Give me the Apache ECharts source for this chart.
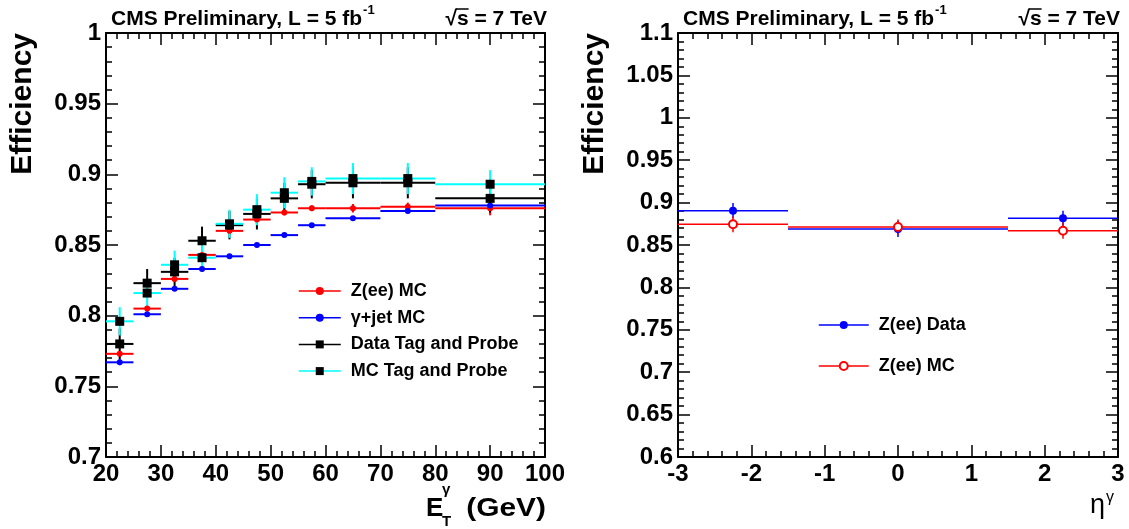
<!DOCTYPE html>
<html>
<head>
<meta charset="utf-8">
<script src="https://cdn.jsdelivr.net/npm/echarts@6/dist/echarts.min.js"></script>
<style>
  html, body { margin: 0; padding: 0; background: #fff; }
  #main { width: 1129px; height: 529px; }
</style>
</head>
<body>
<div id="main"></div>
<script>
// E_T bins (GeV)
const etLo = [20, 25, 30, 35, 40, 45, 50, 55, 60, 70, 80];
const etHi = [25, 30, 35, 40, 45, 50, 55, 60, 70, 80, 100];
const etMid = [22.5, 27.5, 32.5, 37.5, 42.5, 47.5, 52.5, 57.5, 65, 75, 90];

const zeeMcEt = [0.773, 0.805, 0.826, 0.843, 0.860, 0.868, 0.873, 0.876, 0.876, 0.877, 0.876];
const zeeMcEtErr = [0.002, 0.002, 0.002, 0.002, 0.002, 0.003, 0.002, 0.002, 0.003, 0.003, 0.005];
const gjetMc = [0.767, 0.801, 0.819, 0.833, 0.842, 0.850, 0.857, 0.864, 0.869, 0.874, 0.878];
const gjetMcErr = [0.002, 0.0015, 0.0015, 0.0015, 0.0015, 0.0015, 0.0015, 0.0015, 0.0015, 0.0015, 0.002];
const dataTP = [0.780, 0.823, 0.831, 0.853, 0.864, 0.872, 0.883, 0.893, 0.894, 0.894, 0.883];
const dataTPErr = [0.011, 0.010, 0.010, 0.010, 0.010, 0.011, 0.011, 0.010, 0.011, 0.011, 0.010];
const mcTP = [0.796, 0.816, 0.836, 0.841, 0.865, 0.875, 0.887, 0.895, 0.897, 0.897, 0.893];
const mcTPErr = [0.010, 0.010, 0.010, 0.010, 0.010, 0.011, 0.011, 0.010, 0.011, 0.011, 0.010];

// eta bins
const etaLo = [-3, -1.5, 1.5];
const etaHi = [-1.5, 1.5, 3];
const etaMid = [-2.25, 0, 2.25];
const zeeDataEta = [0.8905, 0.8689, 0.8815];
const zeeDataEtaErr = [0.009, 0.0095, 0.009];
const zeeMcEta = [0.8744, 0.8712, 0.8669];
const zeeMcEtaErr = [0.0094, 0.009, 0.0096];

const legendText = {
  zeeMcEt: 'Z(ee) MC',
  gjetMc: 'γ+jet MC',
  dataTP: 'Data Tag and Probe',
  mcTP: 'MC Tag and Probe',
  zeeDataEta: 'Z(ee) Data',
  zeeMcEta: 'Z(ee) MC'
};

const FONT = '"Liberation Sans", Arial, Helvetica, sans-serif';
const measure = document.createElement('canvas').getContext('2d');
function textWidth(s, font) { measure.font = font; return measure.measureText(s).width; }

function errData(mid, lo, hi, val, err) {
  return mid.map((m, i) => [m, val[i], lo[i], hi[i], val[i] - err[i], val[i] + err[i]]);
}
function pointData(mid, val) {
  return mid.map((m, i) => [m, val[i]]);
}

function errBars(color, width) {
  return function (params, api) {
    const y = api.value(1);
    const l = api.coord([api.value(2), y]);
    const r = api.coord([api.value(3), y]);
    const b = api.coord([api.value(0), api.value(4)]);
    const t = api.coord([api.value(0), api.value(5)]);
    const st = { stroke: color, lineWidth: width };
    return {
      type: 'group',
      children: [
        { type: 'line', shape: { x1: l[0], y1: l[1], x2: r[0], y2: r[1] }, style: st },
        { type: 'line', shape: { x1: b[0], y1: b[1], x2: t[0], y2: t[1] }, style: st }
      ]
    };
  };
}

function errSeries(xi, yi, data, color, width) {
  return {
    type: 'custom', xAxisIndex: xi, yAxisIndex: yi, data: data,
    renderItem: errBars(color, width), silent: true, animation: false
  };
}

function markSeries(name, xi, yi, data, lineColor, markColor, symbol, size, extra) {
  return Object.assign({
    type: 'line', name: name, xAxisIndex: xi, yAxisIndex: yi, data: data,
    symbol: symbol, symbolSize: size, showSymbol: true,
    lineStyle: { color: lineColor, opacity: 0 },
    itemStyle: { color: markColor },
    silent: true, animation: false
  }, extra || {});
}

function valueAxis(o) {
  return Object.assign({
    type: 'value',
    axisLine: { show: true, onZero: false, lineStyle: { color: '#000', width: 2 } },
    axisTick: { show: true, inside: true, length: 12, lineStyle: { color: '#000', width: 1.5 } },
    minorTick: { show: true, splitNumber: 5, length: 6, lineStyle: { color: '#000', width: 1.5 } },
    splitLine: { show: false },
    minorSplitLine: { show: false },
    axisLabel: { show: true, margin: 5, fontFamily: FONT, fontWeight: 'bold', fontSize: 24, color: '#000' }
  }, o);
}

function header(left, right) {
  const big = 'bold 21px ' + FONT;
  const main = 'CMS Preliminary, L = 5 fb';
  const energy = '√s = 7 TeV';
  const w = textWidth(main, big);
  const sx = right - textWidth(energy, big) + textWidth('√', big);
  return [
    { type: 'text', x: left, y: 19.5, silent: true,
      style: { text: main, font: big, fill: '#000', verticalAlign: 'middle' } },
    { type: 'text', x: left + w + 1, y: 10, silent: true,
      style: { text: '-1', font: 'bold 13px ' + FONT, fill: '#000', verticalAlign: 'middle' } },
    { type: 'text', x: right, y: 19.5, silent: true,
      style: { text: energy, font: big, fill: '#000', align: 'right', verticalAlign: 'middle' } },
    { type: 'line', silent: true,
      shape: { x1: sx - 1, y1: 9, x2: sx + textWidth('s', big), y2: 9 },
      style: { stroke: '#000', lineWidth: 1.5 } }
  ];
}

const legendBase = {
  orient: 'vertical', padding: 0, selectedMode: false,
  itemHeight: 10,
  formatter: n => legendText[n],
  lineStyle: { opacity: 1, width: 1.5 },
  textStyle: { fontFamily: FONT, fontWeight: 'bold', fontSize: 18, color: '#000', lineHeight: 20, padding: [0, 0, 0, 5] }
};

const chart = echarts.init(document.getElementById('main'));
chart.setOption({
  backgroundColor: '#fff',
  animation: false,
  grid: [
    { left: 106, top: 33, width: 439, height: 424 },
    { left: 678, top: 33, width: 440, height: 424 }
  ],
  xAxis: [
    valueAxis({ gridIndex: 0, position: 'bottom', min: 20, max: 100, interval: 10 }),
    valueAxis({ gridIndex: 0, position: 'top', min: 20, max: 100, interval: 10, axisLabel: { show: false } }),
    valueAxis({ gridIndex: 1, position: 'bottom', min: -3, max: 3, interval: 1 }),
    valueAxis({ gridIndex: 1, position: 'top', min: -3, max: 3, interval: 1, axisLabel: { show: false } })
  ],
  yAxis: [
    valueAxis({ gridIndex: 0, position: 'left', min: 0.7, max: 1, interval: 0.05 }),
    valueAxis({ gridIndex: 0, position: 'right', min: 0.7, max: 1, interval: 0.05, axisLabel: { show: false } }),
    valueAxis({ gridIndex: 1, position: 'left', min: 0.6, max: 1.1, interval: 0.05 }),
    valueAxis({ gridIndex: 1, position: 'right', min: 0.6, max: 1.1, interval: 0.05, axisLabel: { show: false } })
  ],
  legend: [
    Object.assign({}, legendBase, {
      data: ['zeeMcEt', 'gjetMc', 'dataTP', 'mcTP'],
      left: 298, top: 281, itemWidth: 42, itemGap: 6.7
    }),
    Object.assign({}, legendBase, {
      data: ['zeeDataEta', 'zeeMcEta'],
      left: 818, top: 315, itemWidth: 50, itemGap: 21
    })
  ],
  series: [
    errSeries(0, 0, errData(etMid, etLo, etHi, zeeMcEt, zeeMcEtErr), '#ff0000', 2),
    markSeries('zeeMcEt', 0, 0, pointData(etMid, zeeMcEt), '#ff0000', '#ff0000', 'circle', 6),
    errSeries(0, 0, errData(etMid, etLo, etHi, gjetMc, gjetMcErr), '#0000ff', 2),
    markSeries('gjetMc', 0, 0, pointData(etMid, gjetMc), '#0000ff', '#0000ff', 'circle', 6),
    errSeries(0, 0, errData(etMid, etLo, etHi, dataTP, dataTPErr), '#000000', 2),
    markSeries('dataTP', 0, 0, pointData(etMid, dataTP), '#000000', '#000000', 'rect', 9),
    errSeries(0, 0, errData(etMid, etLo, etHi, mcTP, mcTPErr), '#00ffff', 2),
    markSeries('mcTP', 0, 0, pointData(etMid, mcTP), '#00ffff', '#000000', 'rect', 9),

    errSeries(2, 2, errData(etaMid, etaLo, etaHi, zeeDataEta, zeeDataEtaErr), '#0000ff', 1.5),
    markSeries('zeeDataEta', 2, 2, pointData(etaMid, zeeDataEta), '#0000ff', '#0000ff', 'circle', 8),
    errSeries(2, 2, errData(etaMid, etaLo, etaHi, zeeMcEta, zeeMcEtaErr), '#ff0000', 1.5),
    markSeries('zeeMcEta', 2, 2, pointData(etaMid, zeeMcEta), '#ff0000', '#ff0000', 'emptyCircle', 8,
      { itemStyle: { color: '#ff0000', borderWidth: 1.5 } })
  ],
  graphic: [].concat(
    header(111, 547),
    header(683, 1120),
    [
      { type: 'text', x: 22.5, y: 33, rotation: Math.PI / 2, silent: true,
        style: { text: 'Efficiency', font: 'bold 30px ' + FONT, fill: '#000', align: 'right', verticalAlign: 'middle' } },
      { type: 'text', x: 594.5, y: 33, rotation: Math.PI / 2, silent: true,
        style: { text: 'Efficiency', font: 'bold 30px ' + FONT, fill: '#000', align: 'right', verticalAlign: 'middle' } },
      { type: 'text', x: 426, y: 509, silent: true,
        style: { text: 'E', font: 'bold 26px ' + FONT, fill: '#000', verticalAlign: 'middle' } },
      { type: 'text', x: 442, y: 522, silent: true,
        style: { text: 'T', font: 'bold 15px ' + FONT, fill: '#000', verticalAlign: 'middle' } },
      { type: 'text', x: 442, y: 490, silent: true,
        style: { text: 'γ', font: 'bold 15px ' + FONT, fill: '#000', verticalAlign: 'middle' } },
      { type: 'text', x: 546, y: 509, scaleX: 1.15, silent: true,
        style: { text: '(GeV)', font: 'bold 26px ' + FONT, fill: '#000', align: 'right', verticalAlign: 'middle' } },
      { type: 'text', x: 1090, y: 506, silent: true,
        style: { text: 'η', font: '27px ' + FONT, fill: '#000', verticalAlign: 'middle' } },
      { type: 'text', x: 1106, y: 498, silent: true,
        style: { text: 'γ', font: '16px ' + FONT, fill: '#000', verticalAlign: 'middle' } }
    ]
  )
});
</script>
</body>
</html>
